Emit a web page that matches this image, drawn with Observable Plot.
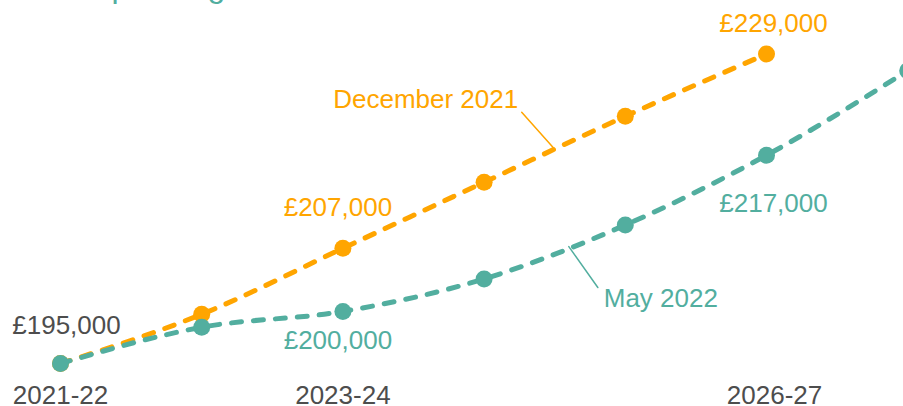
<!DOCTYPE html>
<html>
<head>
<meta charset="utf-8">
<script src="https://cdn.jsdelivr.net/npm/d3@7"></script>
<script src="https://cdn.jsdelivr.net/npm/@observablehq/plot@0.6"></script>
<style>
  html, body { margin: 0; padding: 0; background: white; overflow: hidden; }
</style>
</head>
<body>
<div id="chart"></div>
<script>
const years = ["2021-22", "2022-23", "2023-24", "2024-25", "2025-26", "2026-27", "2027-28"];
const tickIndex = [0, 2];
const lastTickIndex = [5];
// values in £ thousands
const dec2021 = [195, 200.3, 207.4, 214.5, 221.6, 228.3];
const may2022 = [195, 198.9, 200.6, 204.1, 209.9, 217.4, 226.5];
const valueLabels = ["£195,000", "£207,000", "£229,000", "£200,000", "£217,000"];
const seriesNames = ["December 2021", "May 2022"];
const titleText = "spending";

const teal = "#52ae9f", orange = "#ffa500", grey = "#4d4d4d";

const decData = dec2021.map((v, i) => ({i, v}));
const mayData = may2022.map((v, i) => ({i, v}));
const along = (arr, i, t) => ({i: i + t, v: arr[i] + t * (arr[i + 1] - arr[i])});
const decAnchor = along(dec2021, 3, 0.5);
const mayAnchor = along(may2022, 3, 0.6);

const leader = {draw(ctx, l) { ctx.moveTo(0, 0); ctx.lineTo(0, -l); }};
const lineOpts = {x: "i", y: "v", strokeWidth: 5, strokeDasharray: "10,12", strokeLinecap: "round", curve: "monotone-x"};
const axisOpts = {tickFormat: i => years[i], tickSize: 0, tickPadding: 22, fontSize: 26, fill: grey, label: null};

const chart = Plot.plot({
  width: 903,
  height: 406,
  marginLeft: 60,
  marginRight: 137,
  marginTop: 47,
  marginBottom: 43,
  x: {domain: [0, 5], axis: null, label: null},
  y: {domain: [195, 229], axis: null, label: null},
  style: {fontFamily: "'Liberation Sans', Arial, sans-serif", fontSize: "26px", background: "white", overflow: "hidden"},
  marks: [
    Plot.text([titleText], {frameAnchor: "top-left", dx: 35, dy: -50.5, lineAnchor: "bottom", textAnchor: "start", fill: teal, fontSize: 32}),
    Plot.axisX({...axisOpts, ticks: tickIndex}),
    Plot.axisX({...axisOpts, ticks: lastTickIndex, dx: 8}),
    Plot.line(decData, {...lineOpts, stroke: orange}),
    Plot.dot(decData, {x: "i", y: "v", r: 8.5, fill: orange}),
    Plot.line(mayData, {...lineOpts, stroke: teal}),
    Plot.dot(mayData, {x: "i", y: "v", r: 8.5, fill: teal}),
    // value labels
    Plot.text([mayData[0]], {x: "i", y: "v", text: () => valueLabels[0], dx: 6, dy: -38, fill: grey, fontSize: 26}),
    Plot.text([decData[2]], {x: "i", y: "v", text: () => valueLabels[1], dx: -5, dy: -41, fill: orange, fontSize: 26}),
    Plot.text([decData[5]], {x: "i", y: "v", text: () => valueLabels[2], dx: 7, dy: -30, fill: orange, fontSize: 26}),
    Plot.text([mayData[2]], {x: "i", y: "v", text: () => valueLabels[3], dx: -5, dy: 29, fill: teal, fontSize: 26}),
    Plot.text([mayData[5]], {x: "i", y: "v", text: () => valueLabels[4], dx: 7, dy: 48, fill: teal, fontSize: 26}),
    // series labels with leaders
    Plot.vector([decAnchor], {x: "i", y: "v", anchor: "start", length: 49.6, rotate: -41.7, shape: leader, stroke: orange, strokeWidth: 1.5}),
    Plot.text([decAnchor], {x: "i", y: "v", text: () => seriesNames[0], dx: -129, dy: -50, fill: orange, fontSize: 26}),
    Plot.vector([mayAnchor], {x: "i", y: "v", anchor: "start", length: 50.2, rotate: 144.7, shape: leader, stroke: teal, strokeWidth: 1.5}),
    Plot.text([mayAnchor], {x: "i", y: "v", text: () => seriesNames[1], dx: 92, dy: 52, fill: teal, fontSize: 26})
  ]
});
document.getElementById("chart").appendChild(chart);
</script>
</body>
</html>
